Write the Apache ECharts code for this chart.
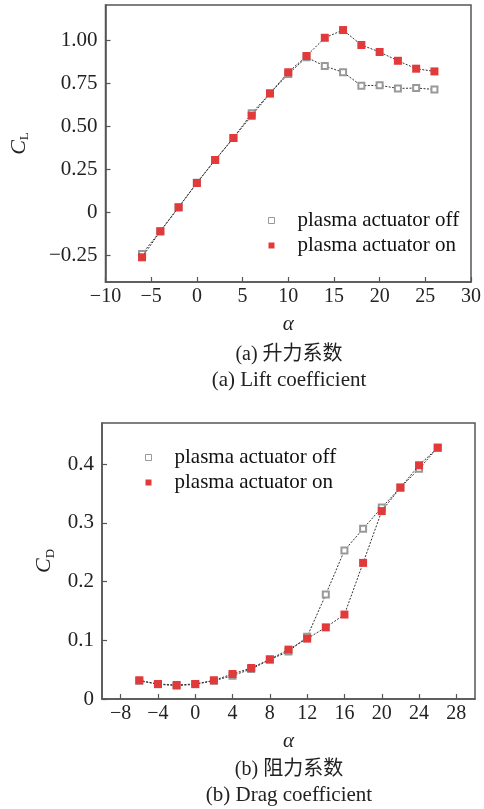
<!DOCTYPE html>
<html>
<head>
<meta charset="utf-8">
<script src="https://cdn.jsdelivr.net/npm/echarts@6/dist/echarts.min.js"></script>
<style>
	html, body { margin: 0; padding: 0; background: #fff; }
	#main { width: 484px; height: 809px; }
</style>
</head>
<body>
<div id="main"></div>
<script>
// 攻角
var alpha = [-6, -4, -2, 0, 2, 4, 6, 8, 10, 12, 14, 16, 18, 20, 22, 24, 26];
// 升力系数
var clOff = [-0.243, -0.11, 0.03, 0.172, 0.305, 0.433, 0.577, 0.693, 0.806, 0.903, 0.852, 0.816, 0.738, 0.74, 0.722, 0.724, 0.716];
var clOn = [-0.262, -0.111, 0.029, 0.171, 0.305, 0.433, 0.563, 0.693, 0.816, 0.911, 1.017, 1.062, 0.975, 0.934, 0.883, 0.837, 0.821];
// 阻力系数
var cdOff = [0.031, 0.025, 0.0227, 0.025, 0.031, 0.0398, 0.051, 0.067, 0.081, 0.106, 0.178, 0.253, 0.29, 0.326, 0.36, 0.392, 0.428];
var cdOn = [0.0318, 0.0256, 0.0239, 0.0256, 0.0318, 0.0426, 0.0528, 0.0676, 0.0841, 0.1028, 0.122, 0.1438, 0.2318, 0.32, 0.36, 0.398, 0.428];
// 刻度
var clTicks = [-0.25, 0, 0.25, 0.5, 0.75, 1.0];
var cdTicks = [0, 0.1, 0.2, 0.3, 0.4];
var cdAlphaTicks = [-8, -4, 0, 4, 8, 12, 16, 20, 24, 28];

(function () {
	var serif = "'Liberation Serif', 'Times New Roman', serif";
	var frame = '#555';
	function pairs(xs, ys) {
		var out = [];
		for (var i = 0; i < xs.length; i++) {
			out.push([xs[i], ys[i]]);
		}
		return out;
	}
	function minus(s) {
		return String(s).replace('-', '\u2212');
	}
	var axisBase = {
		axisLine: { show: true, onZero: false, lineStyle: { color: frame, width: 1.5 } },
		axisTick: { show: true, inside: true, length: 5, lineStyle: { color: frame, width: 1.2 } },
		splitLine: { show: false },
		nameTextStyle: { fontFamily: serif, color: '#222' }
	};
	function xAxis(grid, labels) {
		var ax = echarts.util.merge({
			type: 'value',
			gridIndex: grid,
			min: -10,
			max: 30,
			name: 'α',
			nameLocation: 'middle',
			nameGap: 32,
			nameTextStyle: { fontSize: 21, fontStyle: 'italic' },
			axisLabel: {
				fontFamily: serif, fontSize: 20, color: '#222', margin: 5,
				formatter: function (v) { return minus(v); }
			}
		}, axisBase, true);
		if (labels) {
			ax.axisLabel.customValues = labels;
			ax.axisTick.customValues = labels;
		} else {
			ax.interval = 5;
		}
		return ax;
	}
	function yAxis(grid, min, max, ticks, sub, gap, digits) {
		return echarts.util.merge({
			type: 'value',
			gridIndex: grid,
			min: min,
			max: max,
			name: '{c|C}{s|' + sub + '}',
			nameLocation: 'middle',
			nameRotate: 90,
			nameGap: gap,
			nameTextStyle: {
				rich: {
					c: { fontFamily: serif, fontStyle: 'italic', fontSize: 22, color: '#222' },
					s: { fontFamily: serif, fontSize: 13, color: '#222', padding: [12, 0, 0, 0] }
				}
			},
			axisLabel: {
				fontFamily: serif, fontSize: 21, color: '#222', margin: 8,
				customValues: ticks,
				formatter: function (v) { return v === 0 ? '0' : minus(v.toFixed(digits)); }
			},
			axisTick: { customValues: ticks }
		}, axisBase, true);
	}
	function legend(left, top) {
		return {
			orient: 'vertical',
			left: left,
			top: top,
			itemWidth: 6,
			itemHeight: 6,
			itemGap: 4,
			selectedMode: false,
			textStyle: { fontFamily: serif, fontSize: 21, color: '#111', lineHeight: 21, padding: [0, 0, 0, 18] },
			data: [
				{ name: 'plasma actuator off', icon: 'rect', itemStyle: { color: '#fff', borderColor: '#999', borderWidth: 1 } },
				{ name: 'plasma actuator on', icon: 'rect', itemStyle: { color: '#e03a3a', borderWidth: 0 } }
			]
		};
	}
	function series(name, x, y, idx) {
		var on = name.indexOf('on') === name.length - 2;
		return {
			name: name,
			type: 'line',
			xAxisIndex: idx,
			yAxisIndex: idx,
			data: pairs(x, y),
			symbol: on ? 'rect' : 'emptyRect',
			symbolSize: on ? 8 : 6,
			itemStyle: on ? { color: '#e03a3a', borderWidth: 0 } : { color: '#999', borderColor: '#999', borderWidth: 1 },
			lineStyle: { color: '#333', width: 1, type: [2, 1.5] },
			z: on ? 3 : 2,
			animation: false
		};
	}
	var myChart = echarts.init(document.getElementById('main'));
	var option = {
		animation: false,
		grid: [
			{ left: 103, top: 5, width: 372, height: 277, show: true, borderColor: frame, borderWidth: 1.5 },
			{ left: 102, top: 423, width: 373, height: 276, show: true, borderColor: frame, borderWidth: 1.5 }
		],
		xAxis: [xAxis(0, null), xAxis(1, cdAlphaTicks)],
		yAxis: [
			yAxis(0, -0.406, 1.208, clTicks, 'L', 74, 2),
			yAxis(1, 0, 0.47, cdTicks, 'D', 44, 1)
		],
		legend: [legend(263, 205), legend(140, 442)],
		series: [
			series('plasma actuator off', alpha, clOff, 0),
			series('plasma actuator on', alpha, clOn, 0),
			series('plasma actuator off', alpha, cdOff, 1),
			series('plasma actuator on', alpha, cdOn, 1)
		],
		graphic: [
			{ type: 'text', x: 289, y: 355, style: { text: '(a) 升力系数', font: "20px 'Liberation Serif', 'Noto Sans CJK SC'", fill: '#222', align: 'center', verticalAlign: 'middle' } },
			{ type: 'text', x: 289, y: 380, style: { text: '(a) Lift coefficient', font: "21px 'Liberation Serif'", fill: '#222', align: 'center', verticalAlign: 'middle' } },
			{ type: 'text', x: 289, y: 770, style: { text: '(b) 阻力系数', font: "20px 'Liberation Serif', 'Noto Sans CJK SC'", fill: '#222', align: 'center', verticalAlign: 'middle' } },
			{ type: 'text', x: 289, y: 795, style: { text: '(b) Drag coefficient', font: "21px 'Liberation Serif'", fill: '#222', align: 'center', verticalAlign: 'middle' } }
		]
	};
	myChart.setOption(option);
	window.addEventListener('resize', function () {
		myChart.resize();
	});
})();
</script>
</body>
</html>
